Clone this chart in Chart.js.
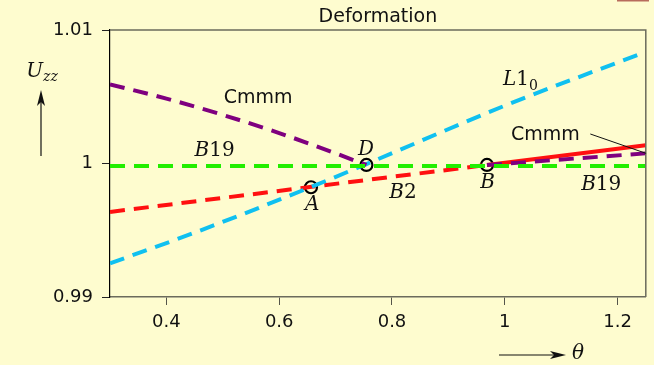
<!DOCTYPE html>
<html>
<head>
<meta charset="utf-8">
<script src="https://cdn.jsdelivr.net/npm/chart.js@4"></script>
<style>
html, body { margin: 0; padding: 0; background: #fefccf; overflow: hidden; }
#wrap { width: 654px; height: 365px; position: relative; }
</style>
</head>
<body>
<div id="wrap"><canvas id="deform" width="654" height="365"></canvas></div>
<script>
// axis ticks
var xTicks = [0.4, 0.6, 0.8, 1, 1.2];
var yTicks = [0.99, 1, 1.01];

// Cmmm (purple dashed), two pieces
var cmmmLeftX = [0.3, 0.4, 0.5, 0.6, 0.7, 0.7546];
var cmmmLeftY = [1.00593, 1.00486, 1.00364, 1.00228, 1.00076, 0.99989];
var cmmmRightX = [0.9684, 1.25];
var cmmmRightY = [0.99989, 1.00076];

// B19 (green dashed)
var b19X = [0.3, 1.25];
var b19Y = [0.99981, 0.99981];

// L1_0 (cyan dashed)
var l10X = [0.3, 0.45, 0.6564, 0.7546, 1.0, 1.25];
var l10Y = [0.99252, 0.99482, 0.99824, 0.99996, 1.00433, 1.00837];

// B2 (red dashed) and its solid continuation
var b2X = [0.3, 0.9684];
var b2Y = [0.99637, 0.99989];
var b2SolidX = [0.9684, 1.25];
var b2SolidY = [0.99989, 1.00136];

// transition points A, D, B
var markX = [0.6564, 0.7546, 0.9684];
var markY = [0.99822, 0.99989, 0.99989];

function pts(xs, ys) {
  return xs.map(function (x, i) { return { x: x, y: ys[i] }; });
}

function dashed(data, color) {
  return {
    type: 'line', data: data, borderColor: color, borderWidth: 4,
    borderDash: [15, 9], pointRadius: 0, fill: false,
    cubicInterpolationMode: 'monotone'
  };
}

var serif = '"DejaVu Serif", serif';
var sans = '"DejaVu Sans", sans-serif';

function drawParts(ctx, parts, cx, cy) {
  var w = 0;
  parts.forEach(function (p) { ctx.font = p.f; p.w = ctx.measureText(p.t).width; w += p.w; });
  var x = cx - w / 2;
  ctx.textBaseline = 'middle';
  ctx.textAlign = 'left';
  parts.forEach(function (p) {
    ctx.font = p.f;
    ctx.fillText(p.t, x, cy + (p.dy || 0));
    x += p.w;
  });
}

function arrow(ctx, x1, y1, x2, y2) {
  var a = Math.atan2(y2 - y1, x2 - x1);
  ctx.beginPath();
  ctx.moveTo(x1, y1);
  ctx.lineTo(x2 - 8 * Math.cos(a), y2 - 8 * Math.sin(a));
  ctx.lineWidth = 1.2;
  ctx.stroke();
  ctx.beginPath();
  ctx.moveTo(x2, y2);
  ctx.lineTo(x2 - 16 * Math.cos(a) - 4 * Math.sin(a), y2 - 16 * Math.sin(a) + 4 * Math.cos(a));
  ctx.lineTo(x2 - 12 * Math.cos(a), y2 - 12 * Math.sin(a));
  ctx.lineTo(x2 - 16 * Math.cos(a) + 4 * Math.sin(a), y2 - 16 * Math.sin(a) - 4 * Math.cos(a));
  ctx.closePath();
  ctx.fill();
}

var decor = {
  id: 'decor',
  beforeDraw: function (chart) {
    var ctx = chart.ctx;
    ctx.save();
    ctx.fillStyle = '#fefccf';
    ctx.fillRect(0, 0, chart.width, chart.height);
    ctx.restore();
  },
  afterDraw: function (chart) {
    var ctx = chart.ctx, a = chart.chartArea;
    var xs = chart.scales.x, ys = chart.scales.y;
    function px(v) { return xs.getPixelForValue(v); }
    function py(v) { return ys.getPixelForValue(v); }
    ctx.save();

    // top and right frame
    ctx.strokeStyle = '#6b6b5c';
    ctx.lineWidth = 1.5;
    ctx.beginPath();
    ctx.moveTo(a.left, a.top);
    ctx.lineTo(a.right, a.top);
    ctx.lineTo(a.right, a.bottom);
    ctx.stroke();

    // small mark at the top right corner
    ctx.fillStyle = '#b86c5c';
    ctx.fillRect(617, 0, 32, 1.5);

    ctx.fillStyle = '#111';
    ctx.strokeStyle = '#111';

    // title
    ctx.font = '19px ' + sans;
    ctx.textAlign = 'center';
    ctx.textBaseline = 'middle';
    ctx.fillText('Deformation', (a.left + a.right) / 2, 17);

    // curve labels
    var it = 'italic 20px ' + serif, up = '20px ' + serif, sub = '14px ' + serif;
    drawParts(ctx, [{ t: 'Cmmm', f: '19px ' + sans }], px(0.5627), py(1.00491));
    drawParts(ctx, [{ t: 'B', f: it }, { t: '19', f: up }], px(0.4855), py(1.00097));
    drawParts(ctx, [{ t: 'L', f: it }, { t: '1', f: up }, { t: '0', f: sub, dy: 6 }], px(1.0279), py(1.00625));
    drawParts(ctx, [{ t: 'Cmmm', f: '19px ' + sans }], px(1.0721), py(1.00213));
    drawParts(ctx, [{ t: 'B', f: it }, { t: '19', f: up }], px(1.171), py(0.99839));
    drawParts(ctx, [{ t: 'B', f: it }, { t: '2', f: up }], px(0.8194), py(0.99779));
    drawParts(ctx, [{ t: 'D', f: it }], px(0.7541), py(1.00101));
    drawParts(ctx, [{ t: 'A', f: it }], px(0.6587), py(0.99689));
    drawParts(ctx, [{ t: 'B', f: it }], px(0.9696), py(0.99854));

    // leader line for the right Cmmm label
    ctx.lineWidth = 1;
    ctx.beginPath();
    ctx.moveTo(px(1.1516), py(1.00221));
    ctx.lineTo(px(1.2505), py(1.00076));
    ctx.stroke();

    // axis labels with arrows
    drawParts(ctx, [{ t: 'U', f: it }, { t: 'zz', f: 'italic 14px ' + serif, dy: 5 }], 42, 72);
    arrow(ctx, 41, 156, 41, 90);
    arrow(ctx, 499, 355, 566, 355);
    drawParts(ctx, [{ t: 'θ', f: it }], 578, 354);

    ctx.restore();
  }
};

new Chart(document.getElementById('deform'), {
  type: 'line',
  data: {
    datasets: [
      dashed(pts(b19X, b19Y), '#22ee00'),
      dashed(pts(cmmmLeftX, cmmmLeftY), '#7f007f'),
      dashed(pts(cmmmRightX, cmmmRightY), '#7f007f'),
      dashed(pts(l10X, l10Y), '#10c0f0'),
      dashed(pts(b2X, b2Y), '#ff1010'),
      {
        type: 'line', data: pts(b2SolidX, b2SolidY), borderColor: '#ff1010',
        borderWidth: 4, pointRadius: 0, fill: false
      },
      {
        type: 'scatter', data: pts(markX, markY), showLine: false,
        pointRadius: 6, pointHoverRadius: 6, pointStyle: 'circle',
        borderColor: '#000', borderWidth: 2.2, backgroundColor: 'rgba(0,0,0,0)'
      }
    ]
  },
  options: {
    responsive: false,
    animation: false,
    events: [],
    layout: { padding: { top: 30, right: 6, left: 0, bottom: 0 } },
    plugins: { legend: { display: false }, tooltip: { enabled: false }, title: { display: false } },
    scales: {
      x: {
        type: 'linear', min: 0.3, max: 1.25,
        afterBuildTicks: function (s) { s.ticks = xTicks.map(function (v) { return { value: v }; }); },
        afterFit: function (s) { s.height = 68; },
        grid: { drawOnChartArea: false, drawTicks: true, tickLength: 8, color: '#55554a' },
        border: { color: '#6b6b5c', width: 1.5 },
        ticks: {
          padding: 7, color: '#111', font: { family: 'DejaVu Sans', size: 18 },
          maxRotation: 0,
          callback: function (v) { return String(+v.toFixed(3)); }
        }
      },
      y: {
        type: 'linear', min: 0.99, max: 1.01,
        afterBuildTicks: function (s) { s.ticks = yTicks.map(function (v) { return { value: v }; }); },
        afterFit: function (s) { s.width = 110; },
        grid: { drawOnChartArea: false, drawTicks: true, tickLength: 8, color: '#222' },
        border: { color: '#000', width: 1.2 },
        ticks: {
          padding: 9, color: '#111', font: { family: 'DejaVu Sans', size: 18 },
          callback: function (v) { return String(+v.toFixed(3)); }
        }
      }
    }
  },
  plugins: [decor]
});
</script>
</body>
</html>
